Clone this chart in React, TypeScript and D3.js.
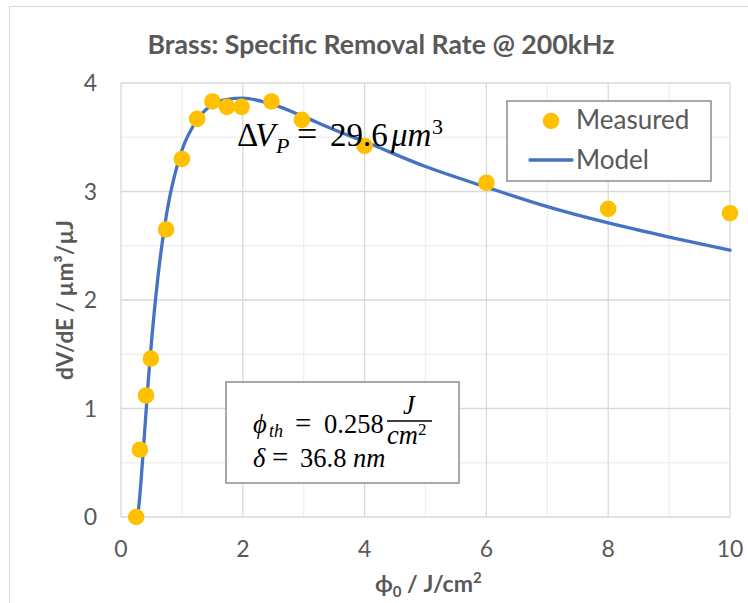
import React from 'react';
import * as d3 from 'd3';

const W = 748;
const H = 603;

// measured points
const measuredX = [0.25, 0.31, 0.41, 0.49, 0.74, 1.0, 1.25, 1.5, 1.74, 1.98, 2.47, 2.97, 4.0, 6.0, 8.0, 10.0];
const measuredY = [0.0, 0.62, 1.12, 1.46, 2.65, 3.3, 3.67, 3.83, 3.78, 3.78, 3.83, 3.66, 3.42, 3.08, 2.84, 2.8];

// model curve, read at these fluences
const modelX = [0.258, 0.28, 0.3, 0.33, 0.36, 0.4, 0.45, 0.5, 0.6, 0.7, 0.8, 0.9, 1.0, 1.25, 1.5, 1.75, 2.0, 2.5, 3.0, 3.5, 4.0, 5.0, 6.0, 7.0, 8.0, 9.0, 10.0];
const modelY = [0, 0.04, 0.14, 0.34, 0.57, 0.88, 1.27, 1.61, 2.18, 2.62, 2.95, 3.19, 3.38, 3.66, 3.8, 3.85, 3.86, 3.8, 3.69, 3.57, 3.46, 3.23, 3.04, 2.86, 2.71, 2.58, 2.46];

const xTicks = [0, 2, 4, 6, 8, 10];
const xMinor = [1, 3, 5, 7, 9];
const yTicks = [0, 1, 2, 3, 4];
const yMinor = [0.5, 1.5, 2.5, 3.5];

const sans = 'Lato, "Open Sans", sans-serif';
const serif = '"Liberation Serif", "DejaVu Serif", serif';
const grey = '#595959';

export default function App() {
  const x = d3.scaleLinear().domain([0, 10]).range([121, 730]);
  const y = d3.scaleLinear().domain([0, 4]).range([517, 83]);

  const line = d3
    .line<number>()
    .x((d, i) => x(modelX[i]))
    .y((d) => y(d))
    .curve(d3.curveMonotoneX);

  return (
    <div style={{ position: 'absolute', left: 0, top: 0 }}>
      <svg width={W} height={H} style={{ display: 'block', background: '#fff' }}>
        <rect x={9.5} y={6.5} width={800} height={700} fill="#fff" stroke="#d9d9d9" />

        <text x={381} y={54} textAnchor="middle" fontFamily={sans} fontWeight="bold" fontSize={27} fill={grey}
          textLength={467} lengthAdjust="spacingAndGlyphs">
          Brass: Specific Removal Rate @ 200kHz
        </text>

        {/* grid */}
        {xMinor.map((v) => (
          <line key={'xm' + v} x1={x(v)} x2={x(v)} y1={y(0)} y2={y(4)} stroke="#efefef" strokeWidth={1.3} />
        ))}
        {yMinor.map((v) => (
          <line key={'ym' + v} x1={x(0)} x2={x(10)} y1={y(v)} y2={y(v)} stroke="#efefef" strokeWidth={1.3} />
        ))}
        {xTicks.map((v) => (
          <line key={'xg' + v} x1={x(v)} x2={x(v)} y1={y(0)} y2={y(4)} stroke="#d9d9d9" strokeWidth={1.3} />
        ))}
        {yTicks.map((v) => (
          <line key={'yg' + v} x1={x(0)} x2={x(10)} y1={y(v)} y2={y(v)} stroke="#d9d9d9" strokeWidth={1.3} />
        ))}

        {/* tick labels */}
        {yTicks.map((v) => (
          <text key={'yl' + v} x={97} y={y(v) + 8} textAnchor="end" fontFamily={sans} fontSize={23} fill={grey}>
            {v}
          </text>
        ))}
        {xTicks.map((v) => (
          <text key={'xl' + v} x={x(v)} y={557} textAnchor="middle" fontFamily={sans} fontSize={23} fill={grey}>
            {v}
          </text>
        ))}

        {/* axis titles */}
        <text transform="translate(73,300) rotate(-90)" textAnchor="middle" fontFamily={sans} fontWeight="bold"
          fontSize={23} fill={grey} textLength={160} lengthAdjust="spacingAndGlyphs">
          dV/dE / µm³/µJ
        </text>
        <text x={375} y={592} fontFamily={sans} fontWeight="bold" fontSize={23} fill={grey}>
          <tspan>ϕ</tspan>
          <tspan dy={5} fontSize={15}>0</tspan>
          <tspan dy={-5}> / J/cm</tspan>
          <tspan dy={-9} fontSize={15}>2</tspan>
        </text>

        {/* model */}
        <path d={line(modelY) || ''} fill="none" stroke="#4472C4" strokeWidth={3.3} strokeLinecap="round" />

        {/* measured */}
        {measuredY.map((v, i) => (
          <circle key={'m' + i} cx={x(measuredX[i])} cy={y(v)} r={8.3} fill="#FFC000" />
        ))}

        {/* ΔV_P annotation */}
        <text fontFamily={serif} fontSize={33} fill="#000">
          <tspan x={237} y={146}>Δ</tspan>
          <tspan x={255} y={146} fontStyle="italic">V</tspan>
          <tspan x={276} y={153} fontSize={22} fontStyle="italic">P</tspan>
          <tspan x={297} y={146} fontSize={36}>=</tspan>
          <tspan x={330} y={146}>29.6</tspan>
          <tspan x={391} y={146} fontStyle="italic">μm</tspan>
          <tspan x={432} y={134} fontSize={22}>3</tspan>
        </text>

        {/* parameter box */}
        <rect x={226} y={382} width={233} height={101} fill="#fff" stroke="#8c8c8c" strokeWidth={1.5} />
        <text fontFamily={serif} fontSize={26.5} fill="#000">
          <tspan x={253} y={433} fontStyle="italic">ϕ</tspan>
          <tspan x={269} y={437} fontSize={18} fontStyle="italic">th</tspan>
          <tspan x={295} y={433} fontSize={29}>=</tspan>
          <tspan x={324} y={433}>0.258</tspan>
          <tspan x={403} y={414} fontStyle="italic">J</tspan>
          <tspan x={387} y={444} fontStyle="italic">cm</tspan>
          <tspan x={418} y={435} fontSize={17}>2</tspan>
          <tspan x={253} y={467} fontStyle="italic">δ</tspan>
          <tspan x={272} y={467} fontSize={29}>=</tspan>
          <tspan x={300} y={467}>36.8</tspan>
          <tspan x={353} y={467} fontStyle="italic">nm</tspan>
        </text>
        <line x1={387} x2={432} y1={421} y2={421} stroke="#000" strokeWidth={1.3} />

        {/* legend */}
        <rect x={507} y={101} width={204} height={80} fill="#fff" stroke="#8c8c8c" strokeWidth={1.5} />
        <circle cx={551} cy={121} r={8.3} fill="#FFC000" />
        <text x={576} y={129} fontFamily={sans} fontSize={26} fill={grey}>Measured</text>
        <line x1={530} x2={572} y1={160} y2={160} stroke="#4472C4" strokeWidth={3.3} strokeLinecap="round" />
        <text x={576} y={169} fontFamily={sans} fontSize={26} fill={grey}>Model</text>
      </svg>
    </div>
  );
}
